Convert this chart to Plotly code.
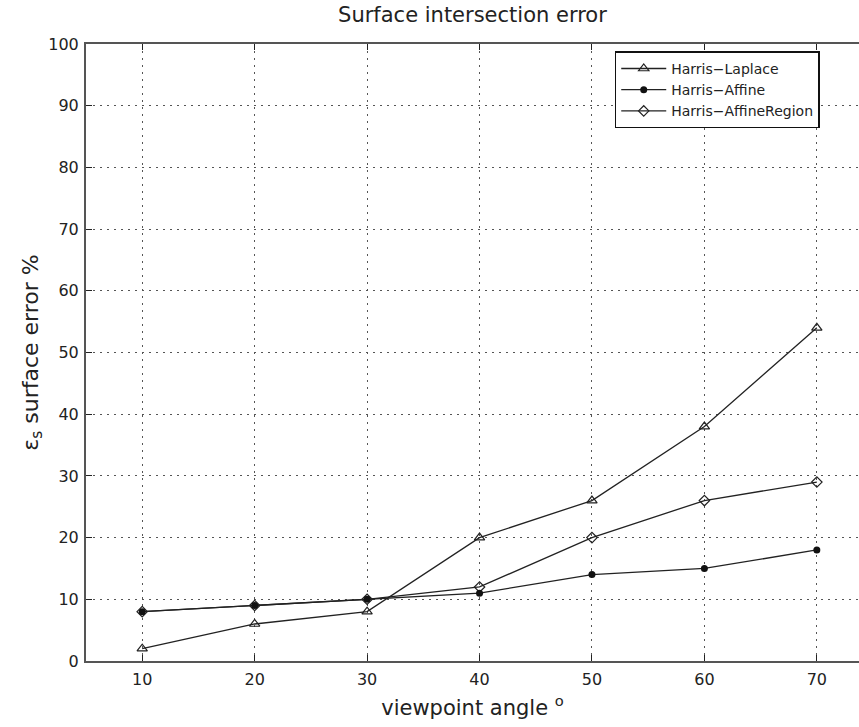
import plotly.graph_objects as go

angles = [10, 20, 30, 40, 50, 60, 70]
harris_laplace = [2, 6, 8, 20, 26, 38, 54]
harris_affine = [8, 9, 10, 11, 14, 15, 18]
harris_affine_region = [8, 9, 10, 12, 20, 26, 29]

x_ticks = [10, 20, 30, 40, 50, 60, 70]
y_ticks = [0, 10, 20, 30, 40, 50, 60, 70, 80, 90, 100]

fig = go.Figure()
fig.add_trace(go.Scatter(x=angles, y=harris_laplace, name="Harris\u2212Laplace",
                         mode="lines+markers",
                         line=dict(color="#222", width=1.3),
                         marker=dict(symbol="triangle-up-open", size=9, color="#222",
                                     line=dict(width=1.2))))
fig.add_trace(go.Scatter(x=angles, y=harris_affine_region, name="Harris\u2212AffineRegion",
                         mode="lines+markers",
                         line=dict(color="#222", width=1.3),
                         marker=dict(symbol="diamond-open", size=8, color="#222",
                                     line=dict(width=1.2))))
fig.add_trace(go.Scatter(x=angles, y=harris_affine, name="Harris\u2212Affine",
                         mode="lines+markers",
                         line=dict(color="#222", width=1.3),
                         marker=dict(symbol="circle", size=7, color="#111")))

font_family = "DejaVu Sans, Liberation Sans, sans-serif"

fig.update_layout(
    width=859, height=727,
    margin=dict(l=86, r=0, t=44, b=66),
    paper_bgcolor="white", plot_bgcolor="white",
    font=dict(family=font_family, color="#222", size=16),
    title=dict(text="Surface intersection error", x=0.55, xanchor="center",
               y=0.99, yanchor="top", font=dict(size=21)),
    showlegend=True,
    legend=dict(x=0.684, y=0.988, xanchor="left", yanchor="top",
                bordercolor="#111", borderwidth=1.5, bgcolor="white",
                font=dict(size=14), tracegroupgap=0, itemwidth=45,
                traceorder="normal"),
    xaxis=dict(range=[5, 73.75], tickvals=x_ticks, ticktext=[str(v) for v in x_ticks],
               showgrid=True, gridcolor="#555", griddash="2px,5px", gridwidth=1,
               showline=True, linecolor="#555", linewidth=2, mirror="ticks",
               ticks="inside", ticklen=6, tickcolor="#222", zeroline=False,
               ticklabelstandoff=3,
               title=dict(text="viewpoint angle <sup>o</sup>", font=dict(size=21), standoff=12)),
    yaxis=dict(range=[0, 100], tickvals=y_ticks, ticktext=[str(v) for v in y_ticks],
               showgrid=True, gridcolor="#555", griddash="2px,5px", gridwidth=1,
               showline=True, linecolor="#555", linewidth=2, mirror=False,
               ticks="inside", ticklen=6, tickcolor="#222", zeroline=False,
               ticklabelstandoff=2,
               title=dict(text="\u03b5<sub>s</sub> surface error %", font=dict(size=22), standoff=4)),
)

# legend order as in reference: Laplace, Affine, AffineRegion
fig.data[0].legendrank = 1
fig.data[2].legendrank = 2
fig.data[1].legendrank = 3

fig.write_html("out.html")
